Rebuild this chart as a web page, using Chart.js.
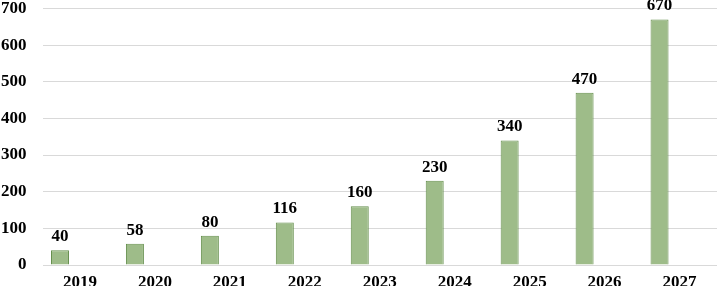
<!DOCTYPE html>
<html>
<head>
<meta charset="utf-8">
<script src="https://cdn.jsdelivr.net/npm/chart.js@4/dist/chart.umd.min.js"></script>
<style>
	html, body { margin: 0; padding: 0; background: #fff; }
	#wrap { width: 717px; height: 286px; }
</style>
</head>
<body>
<div id="wrap"><canvas id="chart"></canvas></div>
<script>
const years = ['2019', '2020', '2021', '2022', '2023', '2024', '2025', '2026', '2027'];
const values = [40, 58, 80, 116, 160, 230, 340, 470, 670];
const emptySeries = [null, null, null, null, null, null, null, null, null];
const yTicks = [0, 100, 200, 300, 400, 500, 600, 700];

const serif = '"Liberation Serif", "Times New Roman", serif';
const labelFont = 'bold 17px ' + serif;

// draws the value above each bar of the first dataset
const valueLabels = {
	id: 'valueLabels',
	afterDatasetsDraw(chart) {
		const ctx = chart.ctx;
		const meta = chart.getDatasetMeta(0);
		ctx.save();
		ctx.font = labelFont;
		ctx.fillStyle = '#000';
		ctx.textAlign = 'center';
		ctx.textBaseline = 'alphabetic';
		meta.data.forEach(function (bar, i) {
			ctx.fillText(String(values[i]), bar.x, bar.y - 9);
		});
		ctx.restore();
	}
};

new Chart(document.getElementById('chart'), {
	type: 'bar',
	data: {
		labels: years,
		datasets: [
			{
				data: values,
				backgroundColor: '#9ebc89',
				borderColor: '#66904e',
				borderWidth: 1,
				categoryPercentage: 0.8,
				barPercentage: 0.9
			},
			// two empty series keep the bars left of the category centre, as in the source
			{ data: emptySeries, categoryPercentage: 0.8, barPercentage: 0.9 },
			{ data: emptySeries, categoryPercentage: 0.8, barPercentage: 0.9 }
		]
	},
	options: {
		responsive: true,
		maintainAspectRatio: false,
		animation: false,
		layout: { padding: { top: 0, left: 1, right: 0, bottom: -14 } },
		plugins: {
			legend: { display: false },
			tooltip: { enabled: false }
		},
		scales: {
			x: {
				grid: { display: false, drawTicks: false },
				border: { display: false },
				ticks: {
					color: '#000',
					padding: 9,
					font: { family: serif, size: 17, weight: 'bold', lineHeight: 1 }
				}
			},
			y: {
				min: 0,
				max: 700,
				afterBuildTicks(axis) {
					axis.ticks = yTicks.map(function (v) { return { value: v }; });
				},
				// invisible tick marks give the gap between labels and plot
				grid: { color: '#d9d9d9', lineWidth: 1, drawTicks: true, tickLength: 16, tickColor: 'rgba(0,0,0,0)' },
				border: { display: false },
				ticks: {
					color: '#000',
					padding: 0,
					font: { family: serif, size: 17, weight: 'bold', lineHeight: 1 }
				}
			}
		}
	},
	plugins: [valueLabels]
});
</script>
</body>
</html>
